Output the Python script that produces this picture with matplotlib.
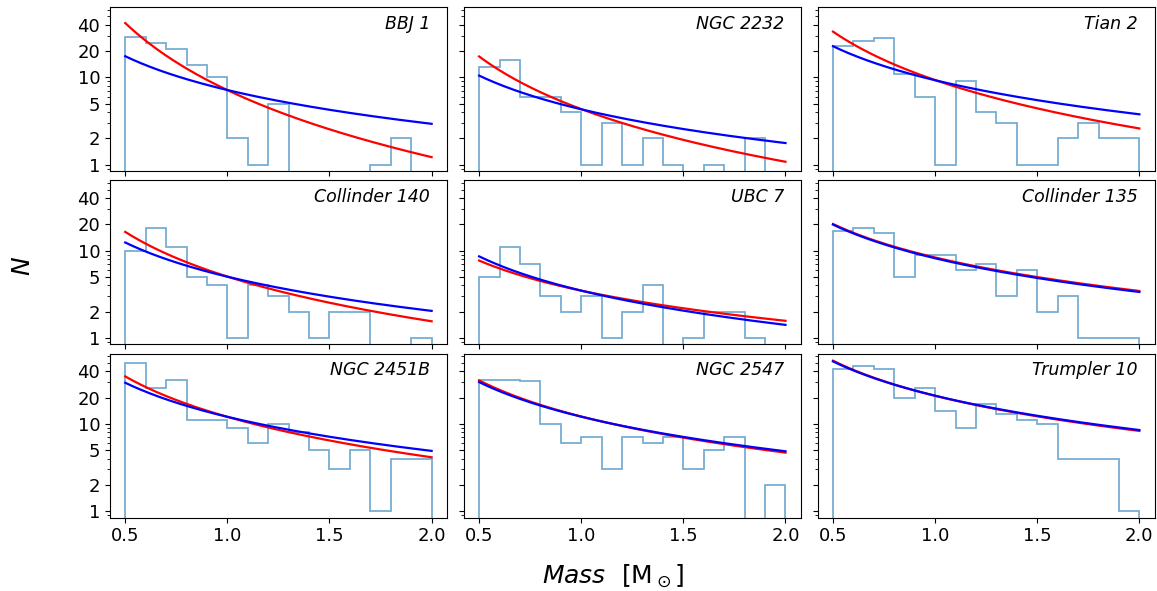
import matplotlib
matplotlib.use("Agg")
import matplotlib.pyplot as plt
import numpy as np
from matplotlib.ticker import FixedLocator, LogLocator, NullFormatter, FuncFormatter

edges = np.round(np.arange(0.5, 2.01, 0.1), 2)

names = ["BBJ 1", "NGC 2232", "Tian 2",
         "Collinder 140", "UBC 7", "Collinder 135",
         "NGC 2451B", "NGC 2547", "Trumpler 10"]

counts = [
    [29, 25, 21, 14, 10, 2, 1, 5, 0, 0, 0, 0, 1, 2, 0],
    [13, 16, 6, 6, 4, 1, 3, 1, 2, 1, 0, 1, 0, 2, 0],
    [23, 26, 28, 11, 6, 1, 9, 4, 3, 1, 1, 2, 3, 2, 2],
    [10, 18, 11, 5, 4, 1, 4, 3, 2, 1, 2, 2, 0, 0, 1],
    [5, 11, 7, 3, 2, 3, 1, 2, 4, 0, 1, 2, 2, 1, 0],
    [17, 18, 16, 5, 9, 9, 6, 7, 3, 6, 2, 3, 1, 1, 1],
    [50, 26, 32, 11, 11, 9, 6, 10, 8, 5, 3, 5, 1, 4, 4],
    [32, 32, 31, 10, 6, 7, 3, 7, 6, 7, 3, 5, 7, 0, 2],
    [42, 46, 43, 20, 26, 14, 9, 17, 13, 11, 10, 4, 4, 4, 1],
]

# fitted curves: value at 0.5 Msun and at 2.0 Msun
red_lo = [42, 17.4, 33.5, 16.4, 7.7, 20.2, 35, 31.5, 53]
red_hi = [1.22, 1.08, 2.6, 1.55, 1.57, 3.45, 4.14, 4.68, 8.3]
blue_lo = [17.5, 10.5, 22.8, 12.4, 8.6, 19.9, 29.6, 30.1, 52]
blue_hi = [2.94, 1.77, 3.78, 2.04, 1.41, 3.36, 4.9, 4.85, 8.5]

fig, axes = plt.subplots(3, 3, figsize=(11.57, 5.91), dpi=100, sharex=True, sharey=True)
fig.subplots_adjust(left=0.095, right=0.998, top=0.988, bottom=0.124, wspace=0.05, hspace=0.055)

m = np.linspace(0.5, 2.0, 200)
for i, ax in enumerate(axes.flat):
    ax.stairs(counts[i], edges, color="tab:blue", alpha=0.6, lw=1.3)
    for lo, hi, c in [(red_lo[i], red_hi[i], "red"), (blue_lo[i], blue_hi[i], "blue")]:
        slope = np.log(hi / lo) / np.log(4.0)
        ax.plot(m, lo * (m / 0.5) ** slope, color=c, lw=1.6)
    ax.set_yscale("log")
    ax.set_ylim(0.84, 64)
    ax.set_xlim(0.425, 2.075)
    ax.yaxis.set_major_locator(FixedLocator([1, 2, 5, 10, 20, 40]))
    ax.yaxis.set_major_formatter(FuncFormatter(lambda v, p: "%d" % v))
    ax.yaxis.set_minor_locator(LogLocator(subs=np.arange(2, 10)))
    ax.yaxis.set_minor_formatter(NullFormatter())
    ax.set_xticks([0.5, 1.0, 1.5, 2.0])
    ax.tick_params(labelsize=13)
    ax.text(0.95, 0.897, names[i], transform=ax.transAxes, ha="right", va="center",
            fontsize=12.5, style="italic")

fig.text(0.02, 0.55, "$N$", fontsize=18, rotation=90, ha="center", va="center")
fig.text(0.53, 0.025, r"$Mass\ \ [\mathrm{M}_\odot]$", fontsize=18, ha="center", va="center")

fig.savefig("out.png", dpi=100)
